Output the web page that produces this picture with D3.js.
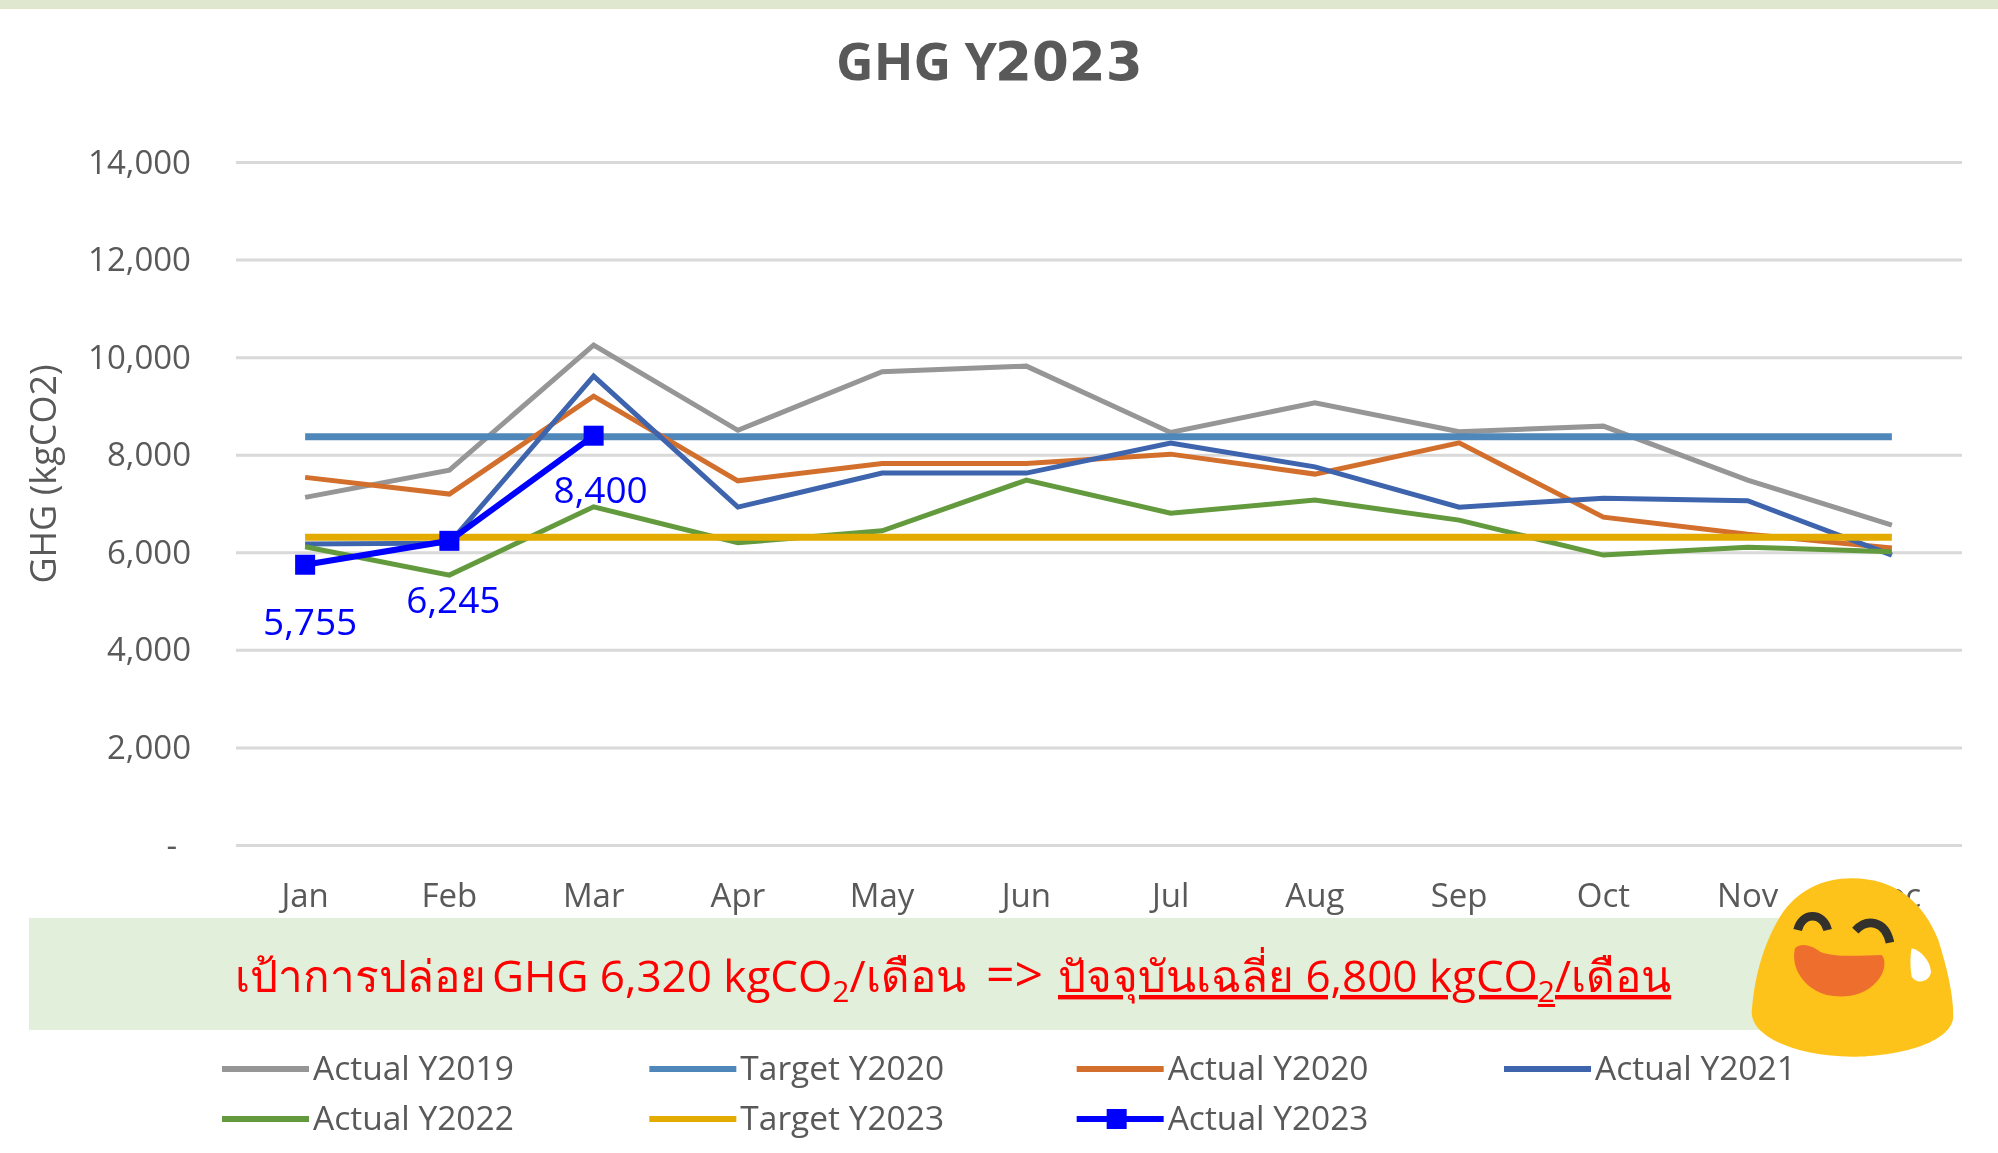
<!DOCTYPE html>
<html>
<head>
<meta charset="utf-8">
<script src="https://cdn.jsdelivr.net/npm/d3@7"></script>
<style>
body { margin: 0; background: #fff; }
svg { display: block; filter: blur(0.7px); }
text { font-family: "Open Sans", "Noto Sans", sans-serif; }
</style>
</head>
<body>
<div id="chart"></div>
<script>
var months = ["Jan","Feb","Mar","Apr","May","Jun","Jul","Aug","Sep","Oct","Nov","Dec"];
var yTicks = [0,2000,4000,6000,8000,10000,12000,14000];

var actual2019 = [7135,7695,10256,8510,9710,9826,8467,9074,8480,8596,7490,6568];
var target2020 = [8380,8380,8380,8380,8380,8380,8380,8380,8380,8380,8380,8380];
var actual2020 = [7546,7203,9211,7475,7830,7830,8022,7613,8254,6730,6380,6100];
var actual2021 = [6178,6198,9620,6936,7633,7633,8248,7762,6936,7120,7066,5953];
var actual2022 = [6123,5543,6943,6205,6450,7490,6813,7080,6670,5953,6115,6020];
var target2023 = [6320,6320,6320,6320,6320,6320,6320,6320,6320,6320,6320,6320];
var actual2023 = [5755,6245,8400];

var series = [
    {name: "Actual Y2019", values: actual2019, color: "#969696", width: 5},
    {name: "Target Y2020", values: target2020, color: "#5087bb", width: 7},
    {name: "Actual Y2020", values: actual2020, color: "#d26f2d", width: 5},
    {name: "Actual Y2021", values: actual2021, color: "#3d64ac", width: 5},
    {name: "Actual Y2022", values: actual2022, color: "#639a3d", width: 5},
    {name: "Target Y2023", values: target2023, color: "#e3aa00", width: 7},
    {name: "Actual Y2023", values: actual2023, color: "#0000ff", width: 6, marker: true}
];

var width = 1998, height = 1153;
var svg = d3.select("#chart").append("svg")
    .attr("width", width)
    .attr("height", height);

// top strip
svg.append("rect").attr("width", width).attr("height", 9).attr("fill", "#dfe7cf");

var x = d3.scaleBand().domain(months).range([233, 1964]);
var y = d3.scaleLinear().domain([0, 14000]).range([845.5, 162.5]);

// title: digits are wider and taller than the letters in the picture
var title = svg.append("text")
    .attr("y", 80)
    .attr("font-weight", 700)
    .attr("fill", "#595959");
title.append("tspan").attr("x", 836).attr("font-size", 52).text("GHG Y");
title.append("tspan").attr("x", 995).attr("font-size", 53)
    .style("font-family", "'DejaVu Sans'").text("2023");

//grid
svg.selectAll("line.grid")
    .data(yTicks)
    .enter()
    .append("line")
    .classed("grid", true)
    .attr("x1", 236).attr("x2", 1962)
    .attr("y1", d => y(d)).attr("y2", d => y(d))
    .attr("stroke", "#d9d9d9").attr("stroke-width", 3);

//axes
var yAxis = d3.axisLeft(y).tickValues(yTicks).tickSize(0).tickPadding(0)
    .tickFormat(d => d === 0 ? "-" : d3.format(",")(d));
svg.append("g").attr("transform", "translate(191,0)").call(yAxis)
    .call(g => g.select(".domain").remove())
    .selectAll("text").attr("font-size", 33).attr("fill", "#595959")
    .attr("dx", d => d === 0 ? -14 : 0);

var xAxis = d3.axisBottom(x).tickSize(0).tickPadding(0);
svg.append("g").attr("transform", "translate(0,884)").call(xAxis)
    .call(g => g.select(".domain").remove())
    .selectAll("text").attr("font-size", 33).attr("fill", "#595959");

svg.append("text")
    .attr("transform", "translate(56,474) rotate(-90)")
    .attr("text-anchor", "middle")
    .attr("font-size", 36)
    .attr("fill", "#595959")
    .text("GHG (kgCO2)");

//lines
var line = d3.line()
    .x((d, i) => x(months[i]) + x.bandwidth() / 2)
    .y(d => y(d));

svg.selectAll("path.series")
    .data(series)
    .enter()
    .append("path")
    .classed("series", true)
    .attr("d", d => line(d.values))
    .attr("fill", "none")
    .attr("stroke", d => d.color)
    .attr("stroke-width", d => d.width);

svg.selectAll("rect.point")
    .data(actual2023)
    .enter()
    .append("rect")
    .classed("point", true)
    .attr("x", (d, i) => x(months[i]) + x.bandwidth() / 2 - 10)
    .attr("y", d => y(d) - 10)
    .attr("width", 20).attr("height", 20)
    .attr("fill", "#0000ff");

// label offsets are in pixels, values stay in actual2023
var labelDx = [5, 4, 7], labelDy = [70, 72, 67];
svg.selectAll("text.point-label")
    .data(actual2023)
    .enter()
    .append("text")
    .classed("point-label", true)
    .attr("x", (d, i) => x(months[i]) + x.bandwidth() / 2 + labelDx[i])
    .attr("y", (d, i) => y(d) + labelDy[i])
    .attr("text-anchor", "middle")
    .attr("font-size", 37)
    .attr("fill", "#0000ff")
    .text(d => d3.format(",")(d));

//banner
svg.append("rect")
    .attr("x", 29).attr("y", 918)
    .attr("width", 1771).attr("height", 112)
    .attr("fill", "#e2efda");

var bannerText = svg.append("text")
    .attr("y", 992)
    .attr("font-size", 44)
    .attr("fill", "#ff0000");
bannerText.append("tspan").attr("x", 235).text("เป้าการปล่อย ");
bannerText.append("tspan").attr("x", 492).text("GHG 6,320 kgCO");
bannerText.append("tspan").attr("font-size", 30).attr("dy", 10).text("2");
bannerText.append("tspan").attr("dy", -10).text("/เดือน");
svg.append("text")
    .attr("x", 986).attr("y", 992)
    .attr("font-size", 50)
    .attr("fill", "#ff0000")
    .text("=>");
var current = svg.append("text")
    .attr("x", 1058).attr("y", 992)
    .attr("font-size", 44)
    .attr("fill", "#ff0000")
    .attr("text-decoration", "underline");
current.append("tspan").text("ปัจจุบันเฉลี่ย 6,800 kgCO");
current.append("tspan").attr("font-size", 30).attr("dy", 10).text("2");
current.append("tspan").attr("dy", -10).text("/เดือน");

//legend
var legendX = d3.scalePoint().domain([0,1,2,3]).range([222, 1504]);
var legendY = d3.scalePoint().domain([0,1]).range([1069, 1119]);
var legend = svg.selectAll("g.legend")
    .data(series)
    .enter()
    .append("g")
    .classed("legend", true)
    .attr("transform", (d, i) => "translate(" + legendX(i % 4) + "," + legendY(Math.floor(i / 4)) + ")");
legend.append("line")
    .attr("x1", 0).attr("x2", 87)
    .attr("stroke", d => d.color)
    .attr("stroke-width", 6);
legend.filter(d => d.marker).append("rect")
    .attr("x", 30).attr("y", -10)
    .attr("width", 20).attr("height", 20)
    .attr("fill", d => d.color);
legend.append("text")
    .attr("x", 91).attr("y", 11)
    .attr("font-size", 33.5)
    .attr("fill", "#595959")
    .text(d => d.name);

//emoji, drawn in a 3x grid
var face = svg.append("g").attr("transform", "translate(1730,860) scale(0.3333)");
face.append("path")
    .attr("d", "M365,55C500,55 580,130 625,240C650,320 670,400 670,470C665,550 500,590 365,590C220,590 70,540 65,460C70,370 95,260 150,170C200,90 280,55 365,55Z")
    .attr("fill", "#fec31a");
face.append("path")
    .attr("d", "M203,210C215,155 280,155 293,210")
    .attr("fill", "none").attr("stroke", "#33312c").attr("stroke-width", 26);
face.append("path")
    .attr("d", "M376,212C410,175 465,180 480,248")
    .attr("fill", "none").attr("stroke", "#33312c").attr("stroke-width", 26);
face.append("path")
    .attr("d", "M195,265C215,245 250,260 270,275C320,295 400,285 455,285C470,300 465,340 440,365C400,410 340,415 290,405C230,390 180,330 195,265Z")
    .attr("fill", "#ee6e2e");
face.append("path")
    .attr("d", "M545,265C570,270 600,300 603,335C600,365 560,375 545,350C540,320 540,290 545,265Z")
    .attr("fill", "#fff");
</script>
</body>
</html>
